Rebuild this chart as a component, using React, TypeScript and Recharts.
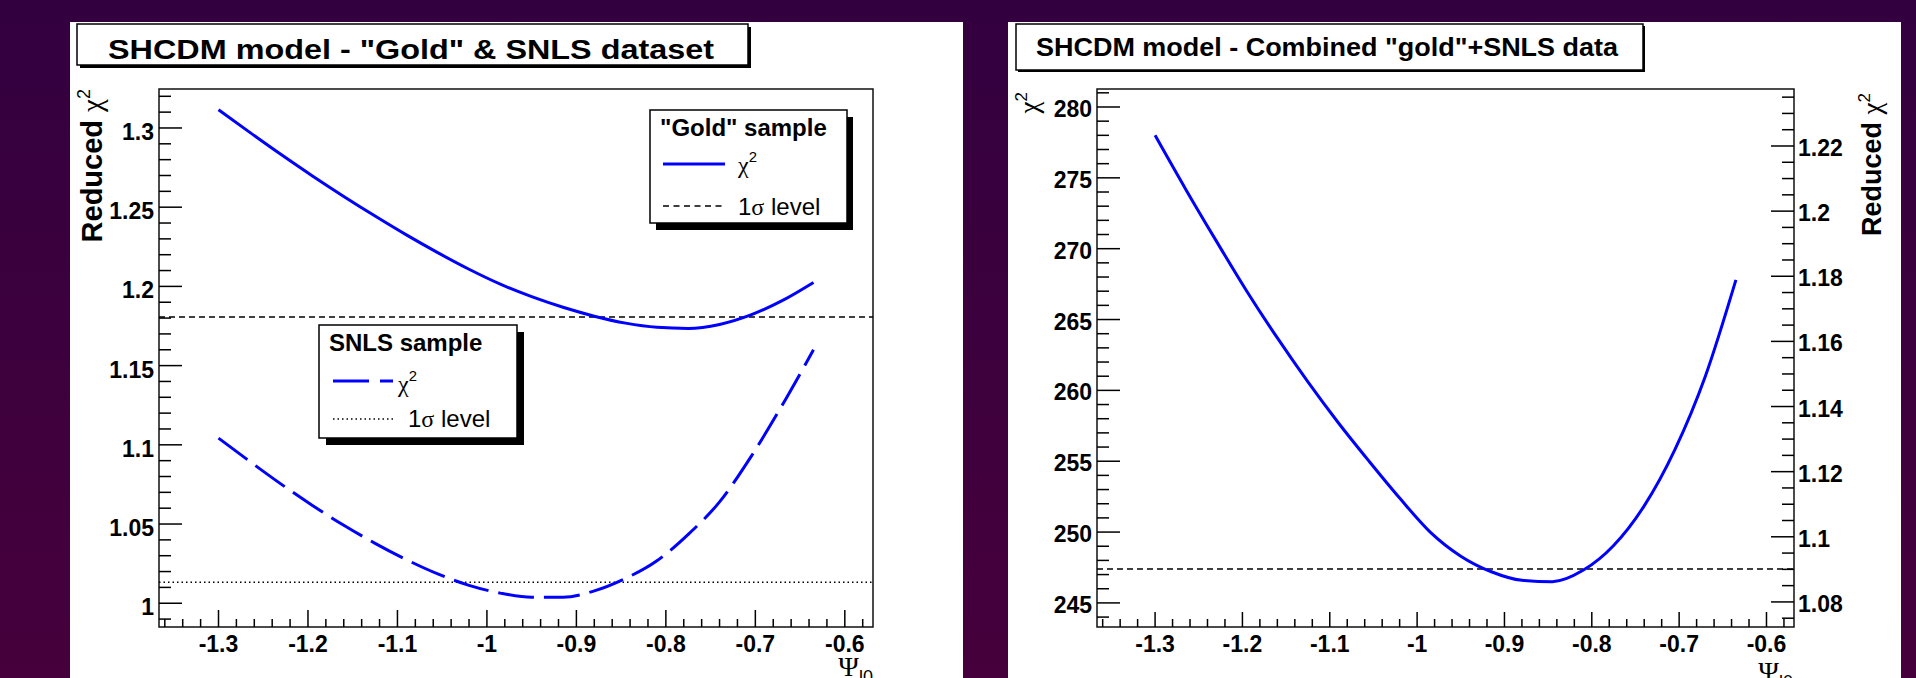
import React from "react";
import { LineChart, Line, XAxis, YAxis, ReferenceLine, ReferenceArea } from "recharts";

// psi_l0 grid shared by all three curves
const psi = [
  -1.3, -1.265, -1.23, -1.195, -1.16, -1.125, -1.09, -1.055, -1.02, -0.985,
  -0.95, -0.915, -0.88, -0.845, -0.81, -0.775, -0.74, -0.705, -0.67, -0.635,
];
const goldReduced = [
  1.3115, 1.2972, 1.2832, 1.2697, 1.2568, 1.2444, 1.2325, 1.2213, 1.2108, 1.2014,
  1.1935, 1.1868, 1.1812, 1.1768, 1.1742, 1.1735, 1.176, 1.182, 1.191, 1.2025,
];
const snlsReduced = [
  1.1042, 1.0895, 1.0752, 1.0617, 1.0492, 1.0378, 1.0275, 1.0185, 1.0113, 1.0064,
  1.0038, 1.0038, 1.0078, 1.0157, 1.0268, 1.0435, 1.064, 1.0924, 1.125, 1.16,
];
const combinedChi2 = [
  278.0, 274.2, 270.55, 267.0, 263.7, 260.6, 257.7, 255.0, 252.4, 250.0,
  248.3, 247.2, 246.6, 246.5, 247.3, 249.05, 251.85, 255.8, 261.0, 267.8,
];

const goldSigma = 1.1807;
const snlsSigma = 1.0133;
const combinedSigma = 247.4;

const xDomain = [-1.3665, -0.5685];
const reducedDomainLeft = [0.985, 1.3246];
const chi2Domain = [243.3, 281.27];
const reducedDomainRight = [1.0723, 1.2375];

const xMajor = [-1.3, -1.2, -1.1, -1, -0.9, -0.8, -0.7, -0.6];
const xLabels = ["-1.3", "-1.2", "-1.1", "-1", "-0.9", "-0.8", "-0.7", "-0.6"];
const leftMajor = [1, 1.05, 1.1, 1.15, 1.2, 1.25, 1.3];
const leftLabels = ["1", "1.05", "1.1", "1.15", "1.2", "1.25", "1.3"];
const chi2Major = [245, 250, 255, 260, 265, 270, 275, 280];
const chi2Labels = ["245", "250", "255", "260", "265", "270", "275", "280"];
const redMajor = [1.08, 1.1, 1.12, 1.14, 1.16, 1.18, 1.2, 1.22];
const redLabels = ["1.08", "1.1", "1.12", "1.14", "1.16", "1.18", "1.2", "1.22"];

const font = '"Liberation Sans", Arial, Helvetica, sans-serif';
const greek = '"Liberation Serif", "DejaVu Serif", serif';
const BLUE = "#0000ff";

// tick positions incl. minor divisions
function tickGrid(start: number, end: number, step: number) {
  const out: number[] = [];
  for (let v = start; v <= end + step / 100; v += step) out.push(Math.round(v * 100000) / 100000);
  return out;
}
const xTicks = tickGrid(-1.36, -0.58, 0.02);
const leftTicks = tickGrid(0.99, 1.32, 0.01);
const chi2Ticks = tickGrid(244, 281, 1);
const redTicks = tickGrid(1.075, 1.235, 0.005);

function labelOf(v: number, majors: number[], labels: string[]) {
  const i = majors.findIndex((m) => Math.abs(m - v) < 1e-6);
  return i < 0 ? null : labels[i];
}

function bottomTick(majors: number[], labels: string[], majorLen: number) {
  return (props: any) => {
    const { x, y, payload } = props;
    const lab = labelOf(payload.value, majors, labels);
    return (
      <g>
        <line x1={x} y1={y} x2={x} y2={y - (lab ? majorLen : 8)} stroke="#000" strokeWidth={1.5} />
        {lab && (
          <text x={x} y={y + 25} textAnchor="middle" fontFamily={font} fontWeight="bold" fontSize={23} fill="#000">
            {lab}
          </text>
        )}
      </g>
    );
  };
}

function sideTick(majors: number[], labels: string[], side: "left" | "right", dy: number) {
  return (props: any) => {
    const { x, y, payload } = props;
    const lab = labelOf(payload.value, majors, labels);
    const len = lab ? 23 : 12;
    const dir = side === "left" ? 1 : -1;
    return (
      <g>
        <line x1={x} y1={y} x2={x + dir * len} y2={y} stroke="#000" strokeWidth={1.5} />
        {lab && (
          <text
            x={side === "left" ? x - 5 : x + 4}
            y={y + dy}
            textAnchor={side === "left" ? "end" : "start"}
            fontFamily={font}
            fontWeight="bold"
            fontSize={23}
            fill="#000"
          >
            {lab}
          </text>
        )}
      </g>
    );
  };
}

function Chi2Text({ x, y, size }: { x: number; y: number; size: number }) {
  return (
    <text x={x} y={y} fontFamily={greek} fontSize={size} fill="#000">
      χ
      <tspan dy={-size * 0.45} fontSize={size * 0.62} fontFamily={font}>
        2
      </tspan>
    </text>
  );
}

export default function App() {
  const leftData = psi.map((x, i) => ({ x, gold: goldReduced[i], snls: snlsReduced[i] }));
  const rightData = psi.map((x, i) => ({ x, chi2: combinedChi2[i] }));

  return (
    <div
      style={{
        position: "absolute",
        left: 0,
        top: 0,
        width: 1916,
        height: 678,
        overflow: "hidden",
        background: "linear-gradient(180deg, #33003f 0%, #46003c 100%)",
        fontFamily: font,
      }}
    >
      {/* left panel: Gold & SNLS */}
      <div style={{ position: "absolute", left: 70, top: 22, width: 893, height: 656, background: "#fff" }}>
        <LineChart width={893} height={656} data={leftData} margin={{ top: 67, right: 90, bottom: 0, left: 0 }}>
          <XAxis
            type="number"
            dataKey="x"
            domain={xDomain}
            allowDataOverflow
            ticks={xTicks}
            interval={0}
            tick={bottomTick(xMajor, xLabels, 17)}
            tickSize={0}
            tickMargin={0}
            tickLine={false}
            axisLine={false}
            height={51}
          />
          <YAxis
            type="number"
            domain={reducedDomainLeft}
            allowDataOverflow
            ticks={leftTicks}
            interval={0}
            tick={sideTick(leftMajor, leftLabels, "left", 12)}
            tickSize={0}
            tickMargin={0}
            tickLine={false}
            axisLine={false}
            width={89}
          />
          <ReferenceArea
            x1={xDomain[0]}
            x2={xDomain[1]}
            y1={reducedDomainLeft[0]}
            y2={reducedDomainLeft[1]}
            fill="none"
            fillOpacity={0}
            stroke="#111"
            strokeWidth={1.5}
            ifOverflow="visible"
          />
          <ReferenceLine y={goldSigma} stroke="#000" strokeWidth={1.5} strokeDasharray="6 4" />
          <ReferenceLine y={snlsSigma} stroke="#000" strokeWidth={1.5} strokeDasharray="1.5 3" />
          <Line type="monotone" dataKey="gold" stroke={BLUE} strokeWidth={3} dot={false} isAnimationActive={false} />
          <Line
            type="monotone"
            dataKey="snls"
            stroke={BLUE}
            strokeWidth={3}
            strokeDasharray="36 10"
            dot={false}
            isAnimationActive={false}
          />
        </LineChart>
      </div>

      {/* right panel: combined */}
      <div style={{ position: "absolute", left: 1008, top: 22, width: 893, height: 656, background: "#fff" }}>
        <LineChart width={893} height={656} data={rightData} margin={{ top: 67, right: 0, bottom: 0, left: 0 }}>
          <XAxis
            type="number"
            dataKey="x"
            domain={xDomain}
            allowDataOverflow
            ticks={xTicks}
            interval={0}
            tick={bottomTick(xMajor, xLabels, 15)}
            tickSize={0}
            tickMargin={0}
            tickLine={false}
            axisLine={false}
            height={51}
          />
          <YAxis
            yAxisId="chi"
            type="number"
            domain={chi2Domain}
            allowDataOverflow
            ticks={chi2Ticks}
            interval={0}
            tick={sideTick(chi2Major, chi2Labels, "left", 10)}
            tickSize={0}
            tickMargin={0}
            tickLine={false}
            axisLine={false}
            width={89}
          />
          <YAxis
            yAxisId="red"
            orientation="right"
            type="number"
            domain={reducedDomainRight}
            allowDataOverflow
            ticks={redTicks}
            interval={0}
            tick={sideTick(redMajor, redLabels, "right", 10)}
            tickSize={0}
            tickMargin={0}
            tickLine={false}
            axisLine={false}
            width={107}
          />
          <ReferenceArea
            yAxisId="chi"
            x1={xDomain[0]}
            x2={xDomain[1]}
            y1={chi2Domain[0]}
            y2={chi2Domain[1]}
            fill="none"
            fillOpacity={0}
            stroke="#111"
            strokeWidth={1.5}
            ifOverflow="visible"
          />
          <ReferenceLine yAxisId="chi" y={combinedSigma} stroke="#000" strokeWidth={1.5} strokeDasharray="6 4" />
          <Line
            yAxisId="chi"
            type="monotone"
            dataKey="chi2"
            stroke={BLUE}
            strokeWidth={3}
            dot={false}
            isAnimationActive={false}
          />
        </LineChart>
      </div>

      {/* titles, legends, axis titles */}
      <svg width={1916} height={678} style={{ position: "absolute", left: 0, top: 0, pointerEvents: "none" }}>
        <rect x={80} y={27} width={671} height={41} fill="#000" />
        <rect x={77} y={24} width={671} height={41} fill="#fff" stroke="#000" strokeWidth={1.5} />
        <text x={108} y={59} fontFamily={font} fontWeight="bold" fontSize={28} textLength={606} lengthAdjust="spacingAndGlyphs">
          {'SHCDM model - "Gold" & SNLS dataset'}
        </text>

        <rect x={1018} y={26} width={627} height={46} fill="#000" />
        <rect x={1016} y={24} width={627} height={46} fill="#fff" stroke="#000" strokeWidth={1.5} />
        <text x={1036} y={56} fontFamily={font} fontWeight="bold" fontSize={26} textLength={582} lengthAdjust="spacingAndGlyphs">
          {'SHCDM model - Combined "gold"+SNLS data'}
        </text>

        {/* Gold legend */}
        <rect x={656} y={117} width={197} height={113} fill="#000" />
        <rect x={650} y={110} width={197} height={113} fill="#fff" stroke="#000" strokeWidth={1.5} />
        <text x={660} y={136} fontFamily={font} fontWeight="bold" fontSize={24}>
          {'"Gold" sample'}
        </text>
        <line x1={663} y1={164} x2={725} y2={164} stroke={BLUE} strokeWidth={3} />
        <Chi2Text x={738} y={173} size={24} />
        <line x1={663} y1={206} x2={722} y2={206} stroke="#000" strokeWidth={1.5} strokeDasharray="6 4.5" />
        <text x={738} y={215} fontFamily={font} fontSize={24}>
          1<tspan fontFamily={greek}>σ</tspan> level
        </text>

        {/* SNLS legend */}
        <rect x={326} y={332} width={198} height={113} fill="#000" />
        <rect x={319} y={325} width={198} height={113} fill="#fff" stroke="#000" strokeWidth={1.5} />
        <text x={329} y={351} fontFamily={font} fontWeight="bold" fontSize={24}>
          SNLS sample
        </text>
        <line x1={333} y1={381} x2={393} y2={381} stroke={BLUE} strokeWidth={3} strokeDasharray="36 11" />
        <Chi2Text x={398} y={392} size={24} />
        <line x1={333} y1={419} x2={393} y2={419} stroke="#000" strokeWidth={1.5} strokeDasharray="1.5 3" />
        <text x={408} y={427} fontFamily={font} fontSize={24}>
          1<tspan fontFamily={greek}>σ</tspan> level
        </text>

        {/* axis titles */}
        <text transform="translate(102,89) rotate(-90)" textAnchor="end" fontFamily={font} fontSize={29} fill="#000">
          <tspan fontWeight="bold">Reduced </tspan>
          <tspan fontFamily={greek}>χ</tspan>
          <tspan dy={-12} fontSize={18}>
            2
          </tspan>
        </text>
        <text transform="translate(1881,93) rotate(-90)" textAnchor="end" fontFamily={font} fontSize={27} fill="#000">
          <tspan fontWeight="bold">Reduced </tspan>
          <tspan fontFamily={greek}>χ</tspan>
          <tspan dy={-11} fontSize={17}>
            2
          </tspan>
        </text>
        <text transform="translate(1038,92) rotate(-90)" textAnchor="end" fontFamily={greek} fontSize={27} fill="#000">
          χ
          <tspan dy={-11} fontSize={17} fontFamily={font}>
            2
          </tspan>
        </text>
        <text x={873} y={676} textAnchor="end" fontFamily={greek} fontSize={28} fill="#000">
          Ψ
          <tspan dy={7} fontSize={18} fontFamily={font}>
            l0
          </tspan>
        </text>
        <text x={1793} y={681} textAnchor="end" fontFamily={greek} fontSize={28} fill="#000">
          Ψ
          <tspan dy={7} fontSize={18} fontFamily={font}>
            l0
          </tspan>
        </text>
      </svg>
    </div>
  );
}
